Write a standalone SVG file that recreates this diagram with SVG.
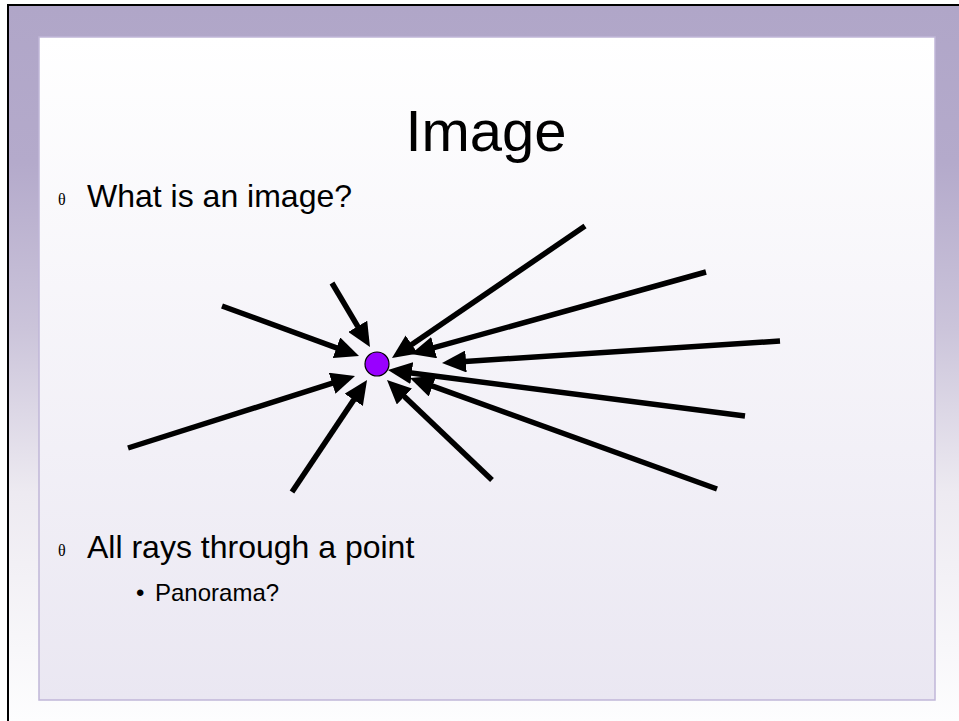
<svg xmlns="http://www.w3.org/2000/svg" width="959" height="721" viewBox="0 0 959 721">
<style>
.t{font-family:"Liberation Sans",Arial,sans-serif;fill:#000}
.b{font-family:"Liberation Serif","Times New Roman",serif;fill:#000}
.ray{stroke:#000;stroke-width:5.5;fill:none;marker-end:url(#ah)}
</style>
<defs>
<linearGradient id="bg" x1="0" y1="0" x2="0" y2="1">
<stop offset="0" stop-color="#B0A6C8"/>
<stop offset="0.22" stop-color="#B4AACB"/>
<stop offset="0.45" stop-color="#CBC4DA"/>
<stop offset="0.68" stop-color="#EDEAF1"/>
<stop offset="1" stop-color="#FDFDFE"/>
</linearGradient>
<linearGradient id="pn" x1="0" y1="0" x2="0" y2="1">
<stop offset="0" stop-color="#FFFFFF"/>
<stop offset="1" stop-color="#EAE7F2"/>
</linearGradient>
<marker id="ah" markerUnits="userSpaceOnUse" markerWidth="24" markerHeight="22" refX="16" refY="11" orient="auto">
<path d="M0,0 L24,11 L0,22 z" fill="#000"/>
</marker>
</defs>
<rect x="0" y="0" width="959" height="721" fill="#FFFFFF"/>
<rect x="9" y="6" width="950" height="715" fill="url(#bg)"/>
<line x1="7" y1="5" x2="959" y2="5" stroke="#000" stroke-width="2"/>
<line x1="8" y1="4" x2="8" y2="721" stroke="#000" stroke-width="2"/>
<rect id="panel" x="39" y="37" width="896" height="663" fill="url(#pn)" stroke="#C0B6D8" stroke-width="1.5"/>
<g id="title"><text class="t" x="486" y="151" font-size="58" text-anchor="middle">Image</text></g>
<g id="bullet1"><text class="b" x="58" y="205" font-size="16">θ</text><text class="t" x="87" y="207" font-size="32">What is an image?</text></g>
<g id="bullet2"><text class="b" x="58" y="556" font-size="16">θ</text><text class="t" x="87" y="558" font-size="32">All rays through a point</text></g>
<g id="bullet3"><text class="t" x="136" y="601" font-size="24">•</text><text class="t" x="155" y="601" font-size="24">Panorama?</text></g>
<g id="connectors">
<line class="ray" x1="222" y1="306" x2="351.5" y2="353.3"/>
<line class="ray" x1="332" y1="283" x2="365.9" y2="340.1"/>
<line class="ray" x1="585" y1="226" x2="398.6" y2="353.5"/>
<line class="ray" x1="706" y1="272" x2="418.7" y2="351.9"/>
<line class="ray" x1="780" y1="341" x2="450.0" y2="362.5"/>
<line class="ray" x1="745" y1="416" x2="395.9" y2="371.0"/>
<line class="ray" x1="717" y1="489" x2="417.5" y2="380.7"/>
<line class="ray" x1="492" y1="480" x2="392.8" y2="385.5"/>
<line class="ray" x1="292" y1="492" x2="362.6" y2="386.6"/>
<line class="ray" x1="128" y1="448" x2="347.4" y2="378.4"/>
</g>
<g id="point"><circle cx="377" cy="364" r="12" fill="#9900FF" stroke="#000" stroke-width="1.2"/></g>
</svg>
